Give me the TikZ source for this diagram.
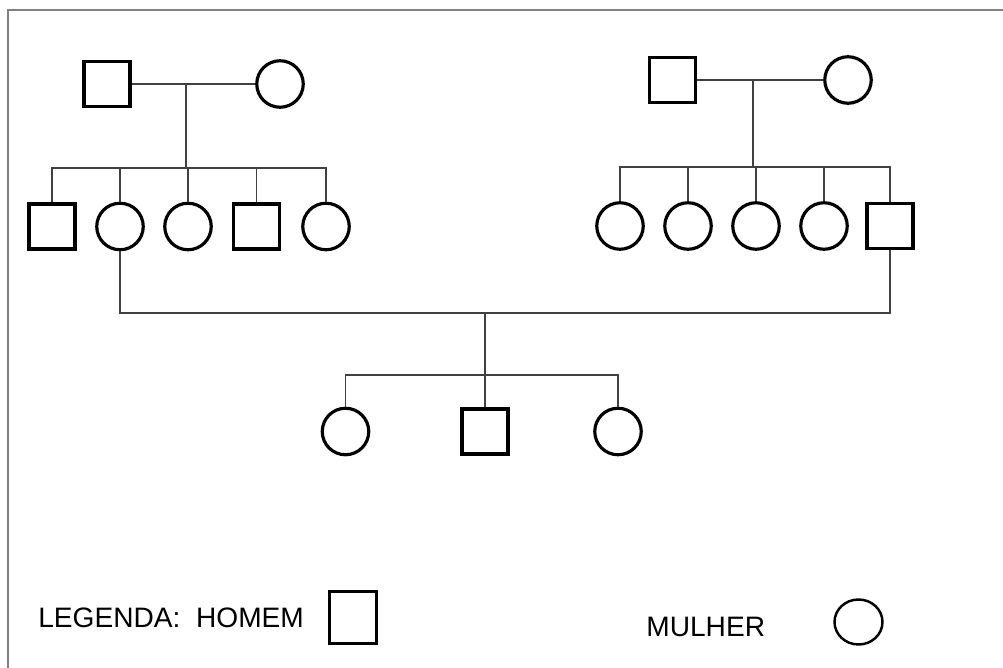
\documentclass[tikz,border=0pt]{standalone}
\usepackage{fontspec}
\setmainfont{Liberation Sans}
\usetikzlibrary{shapes.geometric}
\begin{document}
\begin{tikzpicture}[x=0.02cm,y=-0.02cm,
  male/.style={draw, rectangle, line width=1.8pt, minimum width=0.92cm, minimum height=0.9cm, inner sep=0pt},
  female/.style={draw, circle, line width=1.8pt, minimum size=0.93cm, inner sep=0pt},
  link/.style={draw=black!75, line width=0.8pt},
  frameline/.style={draw=black!50, line width=1.2pt},
  lbl/.style={font=\fontsize{16}{19}\selectfont, inner sep=0pt, anchor=base west}]
\useasboundingbox (0,0) rectangle (1003,668);
\fill[white] (0,0) rectangle (1003,668);
\draw[frameline] (8,668) -- (8,10) -- (1003,10);

% first family (left)
\node[male] (a1) at (107,84) {};
\node[female] (a2) at (280,84) {};
\coordinate (am) at (186,84);
\coordinate (as) at (186,168);
\node[male] (c1) at (52,226.5) {};
\node[female] (c2) at (120,226.5) {};
\node[female] (c3) at (188,226.5) {};
\node[male] (c4) at (256.5,226.5) {};
\node[female] (c5) at (326,226.5) {};
\draw[link] (a1.east) -- (a2.west);
\draw[link] (am) -- (as);
\draw[link] (c1.north) |- (as) -| (c5.north);
\draw[link] (c2.north) -- (c2 |- as);
\draw[link] (c3.north) -- (c3 |- as);
\draw[link] (c4.north) -- (c4 |- as);

% second family (right)
\node[male] (b1) at (672.5,80) {};
\node[female] (b2) at (848,80) {};
\coordinate (bm) at (753,80);
\coordinate (bs) at (753,167);
\node[female] (d1) at (620,226) {};
\node[female] (d2) at (688,226) {};
\node[female] (d3) at (756,226) {};
\node[female] (d4) at (824,226) {};
\node[male] (d5) at (890,226) {};
\draw[link] (b1.east) -- (b2.west);
\draw[link] (bm) -- (bs);
\draw[link] (d1.north) |- (bs) -| (d5.north);
\draw[link] (d2.north) -- (d2 |- bs);
\draw[link] (d3.north) -- (d3 |- bs);
\draw[link] (d4.north) -- (d4 |- bs);

% union and third generation
\coordinate (j) at (485,313);
\coordinate (gs) at (485,375);
\draw[link] (c2.south) |- (j) -| (d5.south);
\draw[link] (j) -- (gs);
\node[female] (g1) at (345.5,431.5) {};
\node[male] (g2) at (485,431.5) {};
\node[female] (g3) at (618,431.5) {};
\draw[link] (g1.north) |- (gs) -| (g3.north);
\draw[link] (g2.north) -- (gs);

% legend
\node[lbl] (lt1) at (38,627) {LEGENDA:\ \ HOMEM};
\node[draw, rectangle, line width=1.4pt, minimum width=0.94cm, minimum height=1.04cm, inner sep=0pt] (lm) at (353,617.5) {};
\node[lbl] (lt2) at (646,636) {MULHER};
\node[draw, ellipse, line width=1.4pt, minimum width=0.96cm, minimum height=0.9cm, inner sep=0pt] (lf) at (858.5,622) {};
\end{tikzpicture}
\end{document}
